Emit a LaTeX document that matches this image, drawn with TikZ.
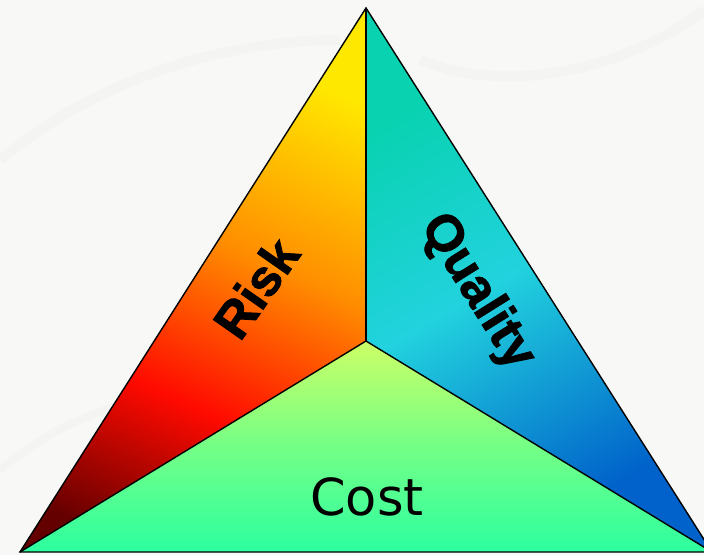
\documentclass[tikz,border=0pt]{standalone}
\usepackage{fontspec}
\setmainfont{Liberation Sans}
\newfontfamily\sidefont[FakeBold=1.6]{Liberation Sans Bold}
\newfontfamily\costfont{DejaVu Sans}
\usetikzlibrary{shapes.geometric}

\definecolor{backwhite}{HTML}{F8F8F6}
\definecolor{swoosh}{HTML}{EDEDEB}
\definecolor{riskyellow}{HTML}{FFE800}
\definecolor{riskorange}{HTML}{FF8E00}
\definecolor{riskred}{HTML}{FF0A00}
\definecolor{riskdark}{HTML}{640000}
\definecolor{qualteal}{HTML}{08D2B0}
\definecolor{qualcyan}{HTML}{22D2DE}
\definecolor{qualblue}{HTML}{0062CA}
\definecolor{costlime}{HTML}{CCFF66}
\definecolor{costgreen}{HTML}{2CFFA0}

% gradients, running bottom to top before rotation
\pgfdeclareverticalshading{riskshade}{100bp}{color(0bp)=(riskdark); color(22bp)=(riskdark); color(38bp)=(riskred); color(55bp)=(riskorange); color(74bp)=(riskyellow); color(100bp)=(riskyellow)}
\pgfdeclareverticalshading{qualshade}{100bp}{color(0bp)=(qualblue); color(27bp)=(qualblue); color(52bp)=(qualcyan); color(73bp)=(qualteal); color(100bp)=(qualteal)}

\begin{document}
\begin{tikzpicture}[x=1pt,y=-1pt]
\tikzstyle{edgeline} = [draw=black, line width=1.4pt, line join=miter]
\tikzstyle{sidetext} = [font=\sidefont\fontsize{51}{51}\selectfont, text=black]

\useasboundingbox (0,0) rectangle (704,555);
\clip (0,0) rectangle (704,555);
\fill[backwhite] (0,0) rectangle (704,555);

% faint background swooshes
\draw[swoosh, line width=10pt, opacity=0.35] (0,160) .. controls (120,60) and (260,40) .. (340,40);
\draw[swoosh, line width=10pt, opacity=0.35] (420,60) .. controls (520,100) and (640,60) .. (704,10);
\draw[swoosh, line width=8pt, opacity=0.3] (0,470) .. controls (60,420) and (120,400) .. (180,395);

% corners of the triangle
\coordinate (T) at (366,8);
\coordinate (L) at (20,552);
\coordinate (R) at (712,552);
\coordinate (O) at (366,341);

\shade[shading=riskshade, shading angle=-25] (T) -- (O) -- (L) -- cycle;
\shade[shading=qualshade, shading angle=30] (T) -- (R) -- (O) -- cycle;
\shade[top color=costlime, bottom color=costgreen, middle color=costlime!45!costgreen] (L) -- (O) -- (R) -- cycle;

\draw[edgeline] (T) -- (L) -- (R) -- cycle;
\draw[edgeline] (T) -- (O);
\draw[edgeline] (L) -- (O) -- (R);

\node[sidetext, rotate=55] (risk) at (256,288) {Risk};
\node[sidetext, rotate=-58] (quality) at (477,292) {Quality};
\node[font=\costfont\fontsize{51}{51}\selectfont] (cost) at (367,497) {Cost};
\end{tikzpicture}
\end{document}
